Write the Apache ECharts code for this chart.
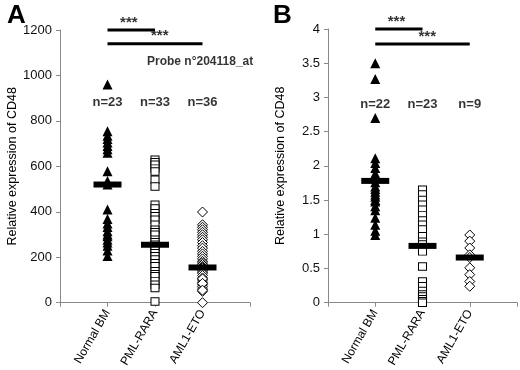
<!DOCTYPE html>
<html>
<head>
<meta charset="utf-8">
<script src="https://cdn.jsdelivr.net/npm/echarts@6/dist/echarts.min.js"></script>
<style>
  html, body { margin: 0; padding: 0; background: #fff; }
  #chart { width: 520px; height: 370px; }
</style>
</head>
<body>
<div id="chart"></div>
<script>
// groups sit at x = 1, 2, 3 on a 0..4 axis
var categories = ['Normal BM', 'PML-RARA', 'AML1-ETO'];

// panel A : probe 204118_at
var aNormal = [960, 755, 735, 720, 705, 690, 675, 660, 578, 535, 520, 410, 368, 348, 333, 314, 300, 292, 277, 265, 251, 230, 205];
var aPml = [629, 618, 607, 590, 577, 541, 511, 431, 415, 394, 380, 365, 343, 321, 310, 299, 277, 266, 255, 245, 233, 218, 204, 190, 174, 160, 138, 125, 116, 95, 79, 65, 5];
var aAml = [399, 343, 332, 321, 310, 299, 288, 277, 265, 251, 240, 226, 215, 204, 193, 182, 175, 168, 160, 155, 150, 142, 135, 130, 120, 109, 100, 90, 79, 70, 60, 50, 105, 85, 55, 0];
var aMedians = [520, 255, 155];
var aCounts = ['n=23', 'n=33', 'n=36'];
var aTicks = [0, 200, 400, 600, 800, 1000, 1200];

// panel B
var bNormal = [3.5, 3.27, 2.70, 2.11, 2.04, 1.97, 1.89, 1.82, 1.76, 1.70, 1.66, 1.62, 1.58, 1.55, 1.50, 1.48, 1.41, 1.35, 1.24, 1.14, 1.05, 0.99];
var bPml = [1.65, 1.58, 1.50, 1.43, 1.36, 1.28, 1.20, 1.14, 1.07, 0.97, 0.89, 0.85, 0.80, 0.75, 0.53, 0.31, 0.24, 0.17, 0.12, 0.09, 0.05, 0.02, 0.0];
var bAml = [0.99, 0.90, 0.80, 0.70, 0.66, 0.51, 0.41, 0.31, 0.24];
var bMedians = [1.78, 0.83, 0.66];
var bCounts = ['n=22', 'n=23', 'n=9'];
var bTicks = [0, 0.5, 1, 1.5, 2, 2.5, 3, 3.5, 4];

// significance bars: [from group, to group, height, star x]
var aSig = [[1, 2, 1200, 1.45], [1, 3, 1140, 2.1]];
var bSig = [[1, 2, 4.0, 1.45], [1, 3, 3.78, 2.1]];
var aCountY = 880, bCountY = 2.9;

var FONT = 'Liberation Sans, Arial, sans-serif';

function pts(x, arr) {
  return arr.map(function (v) { return [x, v]; });
}

function xAxisFor(idx) {
  return {
    gridIndex: idx, type: 'value', min: 0, max: 4, interval: 1,
    splitLine: { show: false },
    axisLine: { lineStyle: { color: '#888', width: 1 } },
    axisTick: { show: true, length: 4, lineStyle: { color: '#888' } },
    axisLabel: {
      rotate: 60, margin: 8, fontSize: 12, color: '#000', fontFamily: FONT,
      formatter: function (v) { return categories[v - 1] || ''; }
    }
  };
}

function yAxisFor(idx, ticks) {
  return {
    gridIndex: idx, type: 'value', min: ticks[0], max: ticks[ticks.length - 1],
    interval: ticks[1] - ticks[0],
    name: 'Relative expression of CD48', nameLocation: 'middle', nameGap: 41,
    nameTextStyle: { fontSize: 12.5, color: '#000', fontFamily: FONT },
    splitLine: { show: false },
    axisLine: { show: true, lineStyle: { color: '#888', width: 1 } },
    axisTick: { show: true, length: 4, lineStyle: { color: '#888' } },
    axisLabel: {
      fontSize: 13, color: '#111', fontFamily: FONT, margin: 8,
      formatter: function (v) { return String(v); }
    }
  };
}

function panelSeries(idx, normal, pml, aml, medians, counts, countY, sig, extra) {
  var s = [];
  s.push({
    type: 'scatter', xAxisIndex: idx, yAxisIndex: idx, symbol: 'triangle',
    symbolSize: [10, 10], itemStyle: { color: '#000', opacity: 1 }, data: pts(1, normal), clip: false
  });
  s.push({
    type: 'scatter', xAxisIndex: idx, yAxisIndex: idx, symbol: 'rect',
    symbolSize: [8, 7.5], itemStyle: { color: '#fff', borderColor: '#000', borderWidth: 1, opacity: 1 },
    data: pts(2, pml), clip: false
  });
  s.push({
    type: 'scatter', xAxisIndex: idx, yAxisIndex: idx, symbol: 'diamond',
    symbolSize: [10, 10], itemStyle: { color: '#fff', borderColor: '#000', borderWidth: 1, opacity: 1 },
    data: pts(3, aml), clip: false
  });
  s.push({
    type: 'scatter', xAxisIndex: idx, yAxisIndex: idx, symbol: 'rect', z: 5,
    symbolSize: [28, 6], itemStyle: { color: '#000', opacity: 1 },
    data: medians.map(function (v, i) { return [i + 1, v]; }), clip: false
  });
  sig.forEach(function (b) {
    s.push({
      type: 'line', xAxisIndex: idx, yAxisIndex: idx, symbol: 'none', clip: false,
      lineStyle: { color: '#000', width: 3 }, data: [[b[0], b[2]], [b[1], b[2]]]
    });
  });
  var texts = counts.map(function (c, i) {
    return { value: [i + 1, countY], name: c };
  });
  var stars = sig.map(function (b) {
    return { value: [b[3], b[2]], name: '***', label: { position: 'top', distance: 0, fontSize: 15 } };
  });
  s.push({
    type: 'scatter', xAxisIndex: idx, yAxisIndex: idx, symbolSize: 0, clip: false,
    label: {
      show: true, position: 'inside', color: '#000', fontSize: 13, fontWeight: 'bold',
      fontFamily: FONT, formatter: function (p) { return p.name; }
    },
    data: texts.concat(stars).concat(extra || [])
  });
  return s;
}

var chart = echarts.init(document.getElementById('chart'));
chart.setOption({
  animation: false,
  backgroundColor: '#fff',
  title: [
    { text: 'A', left: 2, top: -2, textStyle: { fontSize: 26, fontWeight: 'bold', color: '#000', fontFamily: FONT } },
    { text: 'B', left: 268, top: -2, textStyle: { fontSize: 26, fontWeight: 'bold', color: '#000', fontFamily: FONT } }
  ],
  grid: [
    { left: 60, top: 30, width: 190, height: 273 },
    { left: 328, top: 29, width: 189, height: 274 }
  ],
  xAxis: [xAxisFor(0), xAxisFor(1)],
  yAxis: [yAxisFor(0, aTicks), yAxisFor(1, bTicks)],
  series: panelSeries(0, aNormal, aPml, aAml, aMedians, aCounts, aCountY, aSig,
      [{ value: [2.95, 1060], name: 'Probe n°204118_at', label: { fontSize: 12 } }])
    .concat(panelSeries(1, bNormal, bPml, bAml, bMedians, bCounts, bCountY, bSig))
});
</script>
</body>
</html>
